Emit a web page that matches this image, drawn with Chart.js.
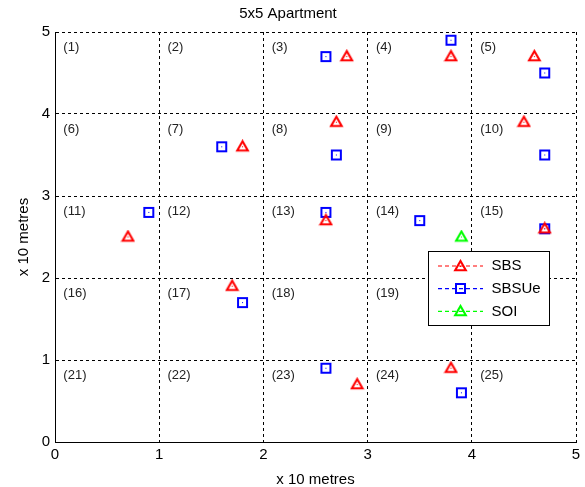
<!DOCTYPE html>
<html>
<head>
<meta charset="utf-8">
<script src="https://cdn.jsdelivr.net/npm/chart.js@4/dist/chart.umd.min.js"></script>
<style>
  html, body { margin: 0; padding: 0; background: #fff; }
  #wrap { width: 585px; height: 487px; }
</style>
</head>
<body>
<div id="wrap"><canvas id="c" width="585" height="487"></canvas></div>
<script>
// Positions in units of 10 metres
const sbsX   = [0.7, 1.8, 2.8, 2.7, 2.6, 1.7, 2.9, 3.8, 3.8, 4.6, 4.5, 4.7];
const sbsY   = [2.5, 3.6, 4.7, 3.9, 2.7, 1.9, 0.7, 4.7, 0.9, 4.7, 3.9, 2.6];
const sbsueX = [0.9, 1.6, 2.6, 2.7, 2.6, 1.8, 2.6, 3.8, 3.5, 3.9, 4.7, 4.7, 4.7];
const sbsueY = [2.8, 3.6, 4.7, 3.5, 2.8, 1.7, 0.9, 4.9, 2.7, 0.6, 4.5, 3.5, 2.6];
const soiX   = [3.9];
const soiY   = [2.5];

const seriesNames = ['SBS', 'SBSUe', 'SOI'];
const axisTicks = [0, 1, 2, 3, 4, 5];
const roomCols = [0, 1, 2, 3, 4];       // left edge of each room column
const roomRows = [5, 4, 3, 2, 1];       // top edge of each room row
const roomLabels = Array.from({ length: 25 }, (_, i) => '(' + (i + 1) + ')');

const chartTitle = '5x5 Apartment';
const xTitle = 'x 10 metres';
const yTitle = 'x 10 metres';

const FONT = "'Liberation Sans', Arial, Helvetica, sans-serif";

// Marker sprites: open triangle / open square with a centre dot
function triangleMarker(color) {
  const c = document.createElement('canvas');
  c.width = 15; c.height = 15;
  const g = c.getContext('2d');
  g.strokeStyle = color;
  g.lineWidth = 2.1;
  g.lineJoin = 'miter';
  g.beginPath();
  g.moveTo(7.5, 2.0);
  g.lineTo(2.2, 11.2);
  g.lineTo(12.8, 11.2);
  g.closePath();
  g.stroke();
  g.fillStyle = color;
  g.fillRect(7, 7, 1, 1);
  return c;
}
function squareMarker(color) {
  const c = document.createElement('canvas');
  c.width = 15; c.height = 15;
  const g = c.getContext('2d');
  g.fillStyle = color;
  g.fillRect(2, 2, 11, 11);
  g.clearRect(4, 4, 7, 7);
  g.fillRect(7, 7, 1, 1);
  return c;
}

const markers = [triangleMarker('#ff0000'), squareMarker('#0000ff'), triangleMarker('#00ff00')];
const colors = ['#ff0000', '#0000ff', '#00ff00'];

function pts(xs, ys) { return xs.map((x, i) => ({ x: x, y: ys[i] })); }

// Room numbers in the top-left corner of each cell
const roomLabelPlugin = {
  id: 'roomLabels',
  afterDatasetsDraw(chart) {
    const { ctx, scales: { x, y } } = chart;
    ctx.save();
    ctx.font = '13px ' + FONT;
    ctx.fillStyle = '#222';
    ctx.textAlign = 'left';
    ctx.textBaseline = 'middle';
    let k = 0;
    roomRows.forEach(r => {
      roomCols.forEach(cIdx => {
        ctx.fillText(roomLabels[k++], x.getPixelForValue(cIdx + 0.08), y.getPixelForValue(r - 0.19));
      });
    });
    ctx.restore();
  }
};

// Boxed legend with dashed line samples
const boxLegendPlugin = {
  id: 'boxLegend',
  afterDraw(chart) {
    const { ctx, chartArea: ca } = chart;
    const bx = ca.right - 147.5, by = ca.top + 219.5, bw = 121, bh = 74;
    ctx.save();
    ctx.fillStyle = '#fff';
    ctx.fillRect(bx, by, bw, bh);
    ctx.strokeStyle = '#000';
    ctx.lineWidth = 1;
    ctx.strokeRect(bx, by, bw, bh);
    ctx.font = '15px ' + FONT;
    ctx.textAlign = 'left';
    ctx.textBaseline = 'middle';
    chart.data.datasets.forEach((ds, i) => {
      const ry = by + 14.5 + i * 22.7;
      ctx.strokeStyle = colors[i];
      ctx.lineWidth = 1.2;
      ctx.setLineDash([4, 3]);
      ctx.beginPath();
      ctx.moveTo(bx + 9.5, ry);
      ctx.lineTo(bx + 54.5, ry);
      ctx.stroke();
      ctx.setLineDash([]);
      const m = markers[i];
      ctx.drawImage(m, Math.round(bx + 32 - m.width / 2), Math.round(ry - m.height / 2));
      ctx.fillStyle = '#000';
      ctx.fillText(ds.label, bx + 63, ry);
    });
    ctx.restore();
  }
};

new Chart(document.getElementById('c'), {
  type: 'scatter',
  data: {
    datasets: [
      { label: seriesNames[0], data: pts(sbsX, sbsY), pointStyle: markers[0], showLine: false },
      { label: seriesNames[1], data: pts(sbsueX, sbsueY), pointStyle: markers[1], showLine: false },
      { label: seriesNames[2], data: pts(soiX, soiY), pointStyle: markers[2], showLine: false }
    ]
  },
  options: {
    responsive: false,
    animation: false,
    events: [],
    layout: { padding: { left: 0, right: 9, top: 0, bottom: 0 }, autoPadding: false },
    plugins: {
      legend: { display: false },
      tooltip: { enabled: false },
      title: {
        display: true,
        text: chartTitle,
        color: '#000',
        font: { family: FONT, size: 15, weight: 'normal', lineHeight: 1.2 },
        padding: { top: 5, bottom: 9 }
      }
    },
    scales: {
      x: {
        type: 'linear',
        position: 'bottom',
        min: 0, max: 5,
        afterBuildTicks(s) { s.ticks = axisTicks.map(v => ({ value: v })); },
        ticks: { color: '#000', font: { family: FONT, size: 15 }, padding: 4, maxRotation: 0 },
        grid: { color: '#000', lineWidth: 1, drawTicks: false },
        border: { display: true, color: '#000', width: 1, dash: [3, 3] },
        title: { display: true, text: xTitle, color: '#000', font: { family: FONT, size: 15, lineHeight: 1 }, padding: { top: 0, bottom: 0 } },
        afterFit(s) { s.height = 45; }
      },
      y: {
        type: 'linear',
        position: 'left',
        min: 0, max: 5,
        afterBuildTicks(s) { s.ticks = axisTicks.map(v => ({ value: v })); },
        ticks: { color: '#000', font: { family: FONT, size: 15 }, padding: 5 },
        grid: { color: '#000', lineWidth: 1, drawTicks: false },
        border: { display: true, color: '#000', width: 1, dash: [3, 3] },
        title: { display: true, text: yTitle, color: '#000', font: { family: FONT, size: 15, lineHeight: 1 }, padding: { top: 16, bottom: 0 } },
        afterFit(s) { s.width = 55; }
      }
    }
  },
  plugins: [roomLabelPlugin, boxLegendPlugin]
});
</script>
</body>
</html>
